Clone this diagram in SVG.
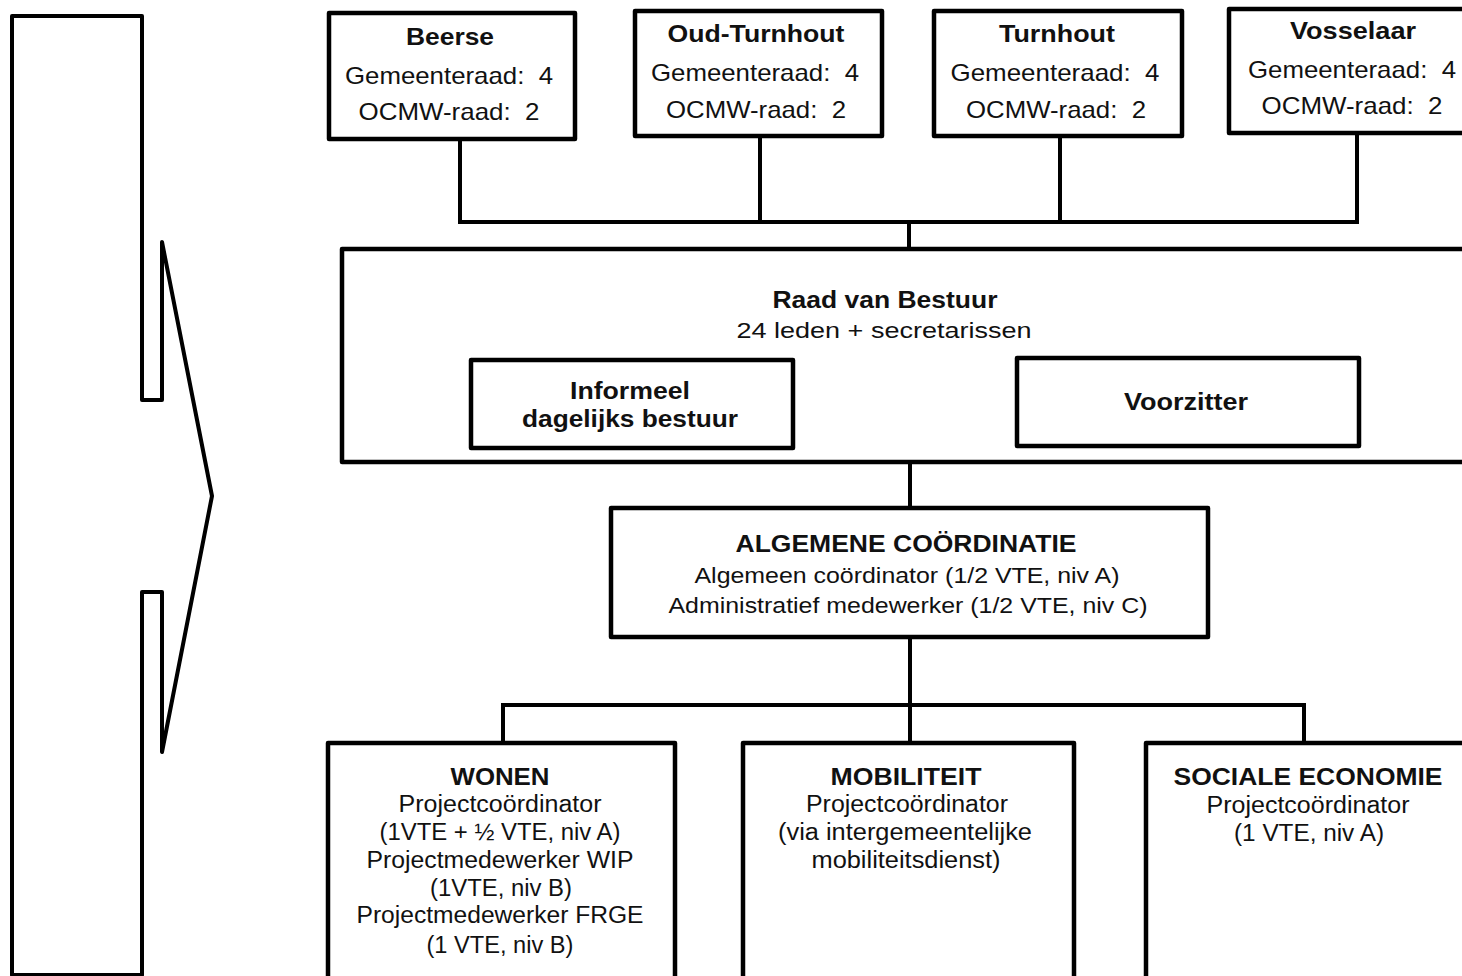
<svg xmlns="http://www.w3.org/2000/svg" width="1462" height="976" viewBox="0 0 1462 976">
<style>
  .box { fill: #ffffff; stroke: #000000; stroke-width: 4.5; stroke-linejoin: round; }
  .ln { fill: none; stroke: #000000; stroke-width: 4; stroke-linejoin: round; stroke-linecap: square; }
  .shape { fill: none; stroke: #000000; stroke-width: 4; stroke-linejoin: round; }
  text { font-family: "Liberation Sans", Arial, sans-serif; fill: #111111; text-anchor: middle; white-space: pre; }
  .t { font-size: 24px; }
  .b { font-size: 24px; font-weight: bold; }
  .m { font-size: 22px; }
  .mb { font-size: 23px; font-weight: bold; }
  .l { font-size: 23.5px; }
  .lb { font-size: 24px; font-weight: bold; }
</style>
<rect x="0" y="0" width="1462" height="976" fill="#ffffff"/>

<g id="side-arrow">
  <path class="shape" d="M12,16 L142,16 L142,400 L162,400 L162,242 L212,496 L162,752 L162,592 L142,592 L142,975 L12,975 Z"/>
</g>

<g id="connectors">
  <path class="ln" d="M460,139 V222 M760,136 V222 M1060,136 V222 M1357,133 V222 M460,222 H1357 M909,222 V249"/>
  <path class="ln" d="M910,462 V508"/>
  <path class="ln" d="M910,637 V705 M503,705 H1304 M503,705 V743 M910,705 V743 M1304,705 V743"/>
</g>

<g id="beerse">
  <rect class="box" x="329" y="13" width="246" height="126"/>
  <text class="b" x="450" y="45" textLength="88" lengthAdjust="spacingAndGlyphs">Beerse</text>
  <text class="t" x="449" y="84" textLength="208" lengthAdjust="spacingAndGlyphs">Gemeenteraad:  4</text>
  <text class="t" x="449" y="120" textLength="181" lengthAdjust="spacingAndGlyphs">OCMW-raad:  2</text>
</g>

<g id="oud-turnhout">
  <rect class="box" x="635" y="11" width="247" height="125"/>
  <text class="b" x="756" y="42" textLength="177" lengthAdjust="spacingAndGlyphs">Oud-Turnhout</text>
  <text class="t" x="755" y="81" textLength="208" lengthAdjust="spacingAndGlyphs">Gemeenteraad:  4</text>
  <text class="t" x="756" y="118" textLength="180" lengthAdjust="spacingAndGlyphs">OCMW-raad:  2</text>
</g>

<g id="turnhout">
  <rect class="box" x="934" y="11" width="248" height="125"/>
  <text class="b" x="1057" y="42" textLength="116" lengthAdjust="spacingAndGlyphs">Turnhout</text>
  <text class="t" x="1055" y="81" textLength="209" lengthAdjust="spacingAndGlyphs">Gemeenteraad:  4</text>
  <text class="t" x="1056" y="118" textLength="180" lengthAdjust="spacingAndGlyphs">OCMW-raad:  2</text>
</g>

<g id="vosselaar">
  <rect class="box" x="1229" y="9" width="250" height="124"/>
  <text class="b" x="1353" y="39" textLength="126" lengthAdjust="spacingAndGlyphs">Vosselaar</text>
  <text class="t" x="1352" y="78" textLength="208" lengthAdjust="spacingAndGlyphs">Gemeenteraad:  4</text>
  <text class="t" x="1352" y="114" textLength="181" lengthAdjust="spacingAndGlyphs">OCMW-raad:  2</text>
</g>

<g id="raad-van-bestuur">
  <rect class="box" x="342" y="249" width="1140" height="213"/>
  <text class="mb" x="885" y="308" textLength="225" lengthAdjust="spacingAndGlyphs">Raad van Bestuur</text>
  <text class="m" x="884" y="338" textLength="295" lengthAdjust="spacingAndGlyphs">24 leden + secretarissen</text>
</g>

<g id="informeel-dagelijks-bestuur">
  <rect class="box" x="471" y="360" width="322" height="88"/>
  <text class="mb" x="630" y="399" textLength="120" lengthAdjust="spacingAndGlyphs">Informeel</text>
  <text class="mb" x="630" y="427" textLength="216" lengthAdjust="spacingAndGlyphs">dagelijks bestuur</text>
</g>

<g id="voorzitter">
  <rect class="box" x="1017" y="358" width="342" height="88"/>
  <text class="mb" x="1186" y="410" textLength="124" lengthAdjust="spacingAndGlyphs">Voorzitter</text>
</g>

<g id="algemene-coordinatie">
  <rect class="box" x="611" y="508" width="597" height="129"/>
  <text class="lb" x="906" y="552" textLength="341" lengthAdjust="spacingAndGlyphs">ALGEMENE COÖRDINATIE</text>
  <text class="m" x="907" y="583" textLength="425" lengthAdjust="spacingAndGlyphs">Algemeen coördinator (1/2 VTE, niv A)</text>
  <text class="m" x="908" y="613" textLength="479" lengthAdjust="spacingAndGlyphs">Administratief medewerker (1/2 VTE, niv C)</text>
</g>

<g id="wonen">
  <rect class="box" x="328" y="743" width="347" height="260"/>
  <text class="lb" x="500" y="785" textLength="99" lengthAdjust="spacingAndGlyphs">WONEN</text>
  <text class="l" x="500" y="812" textLength="203" lengthAdjust="spacingAndGlyphs">Projectcoördinator</text>
  <text class="l" x="500" y="840" textLength="241" lengthAdjust="spacingAndGlyphs">(1VTE + ½ VTE, niv A)</text>
  <text class="l" x="500" y="868" textLength="267" lengthAdjust="spacingAndGlyphs">Projectmedewerker WIP</text>
  <text class="l" x="501" y="896" textLength="142" lengthAdjust="spacingAndGlyphs">(1VTE, niv B)</text>
  <text class="l" x="500" y="923" textLength="287" lengthAdjust="spacingAndGlyphs">Projectmedewerker FRGE</text>
  <text class="l" x="500" y="953" textLength="147" lengthAdjust="spacingAndGlyphs">(1 VTE, niv B)</text>
</g>

<g id="mobiliteit">
  <rect class="box" x="743" y="743" width="331" height="260"/>
  <text class="lb" x="906" y="785" textLength="151" lengthAdjust="spacingAndGlyphs">MOBILITEIT</text>
  <text class="l" x="907" y="812" textLength="202" lengthAdjust="spacingAndGlyphs">Projectcoördinator</text>
  <text class="l" x="905" y="840" textLength="254" lengthAdjust="spacingAndGlyphs">(via intergemeentelijke</text>
  <text class="l" x="906" y="868" textLength="189" lengthAdjust="spacingAndGlyphs">mobiliteitsdienst)</text>
</g>

<g id="sociale-economie">
  <rect class="box" x="1146" y="743" width="340" height="260"/>
  <text class="lb" x="1308" y="785" textLength="269" lengthAdjust="spacingAndGlyphs">SOCIALE ECONOMIE</text>
  <text class="l" x="1308" y="813" textLength="203" lengthAdjust="spacingAndGlyphs">Projectcoördinator</text>
  <text class="l" x="1309" y="841" textLength="150" lengthAdjust="spacingAndGlyphs">(1 VTE, niv A)</text>
</g>
</svg>
